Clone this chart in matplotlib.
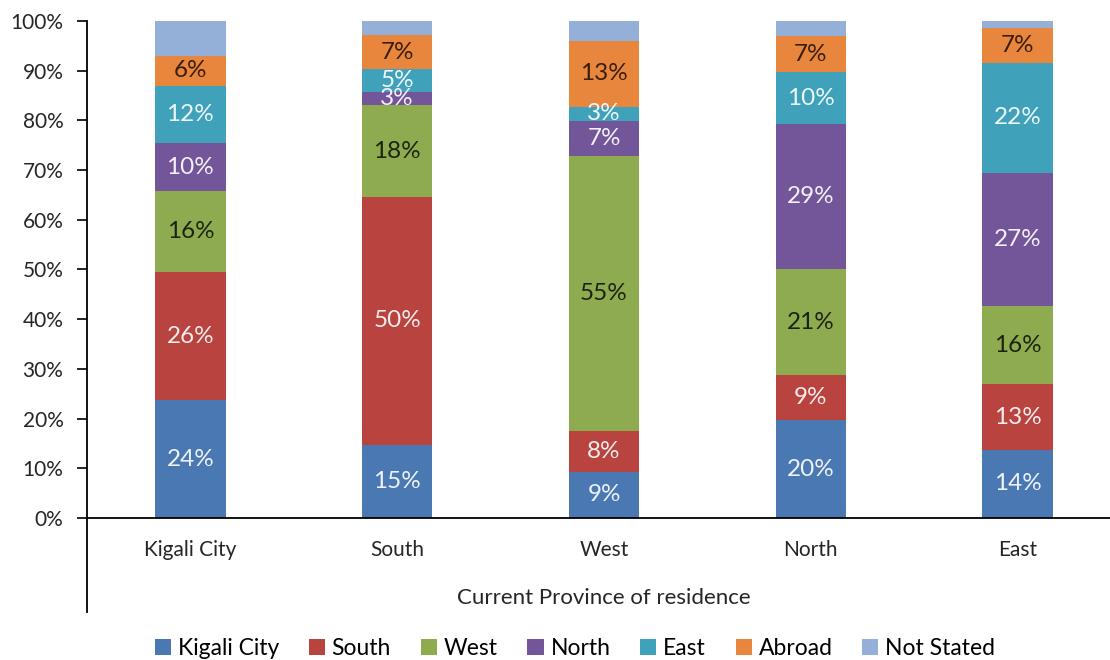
import numpy as np
import matplotlib
matplotlib.use('Agg')
import matplotlib.pyplot as plt

plt.rcParams['font.family'] = ['Lato', 'DejaVu Sans']

provinces = ['Kigali City', 'South', 'West', 'North', 'East']
series = ['Kigali City', 'South', 'West', 'North', 'East', 'Abroad', 'Not Stated']

# share (%) of each origin within each current province, bottom to top
kigali = [23.7, 14.7, 9.3, 19.7, 13.7]
south = [25.7, 49.9, 8.2, 9.1, 13.2]
west = [16.4, 18.4, 55.3, 21.2, 15.8]
north = [9.6, 2.7, 7.1, 29.3, 26.8]
east = [11.6, 4.6, 2.8, 10.4, 22.0]
abroad = [5.9, 6.9, 13.3, 7.3, 7.0]
not_stated = [7.1, 2.8, 4.0, 3.0, 1.5]

values = [kigali, south, west, north, east, abroad, not_stated]
colors = ['#4a78b3', '#b8433f', '#8fab4f', '#73559a', '#40a1ba', '#e9863e', '#94b0d8']
label_colors = ['#eef3fa', '#f6ecec', '#1c2410', '#f4f0f8', '#eef8fb', '#3a1e0c', None]

fig = plt.figure(figsize=(11.1, 6.6), dpi=100)
ax = fig.add_axes([0.0784, 0.2152, 0.9315, 0.753])

x = np.arange(len(provinces))
bottom = np.zeros(len(provinces))
for name, vals, col, lcol in zip(series, values, colors, label_colors):
    vals = np.array(vals)
    ax.bar(x, vals, width=0.34, bottom=bottom, color=col, label=name, linewidth=0)
    if lcol is not None:
        for xi, b, v in zip(x, bottom, vals):
            ax.text(xi, b + v / 2, f'{round(v)}%', ha='center', va='center',
                    fontsize=17.5, color=lcol)
    bottom += vals

ax.set_xlim(-0.5, 4.5)
ax.set_ylim(0, 100)
ax.set_yticks(np.arange(0, 101, 10))
ax.set_yticklabels([f'{t}%' for t in range(0, 101, 10)], fontsize=15, color='#262626')
ax.set_xticks(x)
ax.set_xticklabels(provinces, fontsize=15, color='#262626')
ax.tick_params(axis='x', length=0, pad=16)
ax.tick_params(axis='y', length=7, width=1.2, pad=10)

for s in ['top', 'right']:
    ax.spines[s].set_visible(False)
ax.spines['bottom'].set_linewidth(1.3)
ax.spines['left'].set_visible(False)
ax.plot([0, 0], [-0.19, 1.0], transform=ax.transAxes, color='black',
        linewidth=1.3, clip_on=False)

ax.set_xlabel('Current Province of residence', fontsize=16, color='#262626', labelpad=20)

fig.legend(loc='center', bbox_to_anchor=(0.518, 0.018), ncol=7, frameon=False,
           fontsize=16.5, handlelength=0.7, handleheight=0.7, handletextpad=0.3,
           columnspacing=1.3)

fig.savefig('out.png', dpi=100)
